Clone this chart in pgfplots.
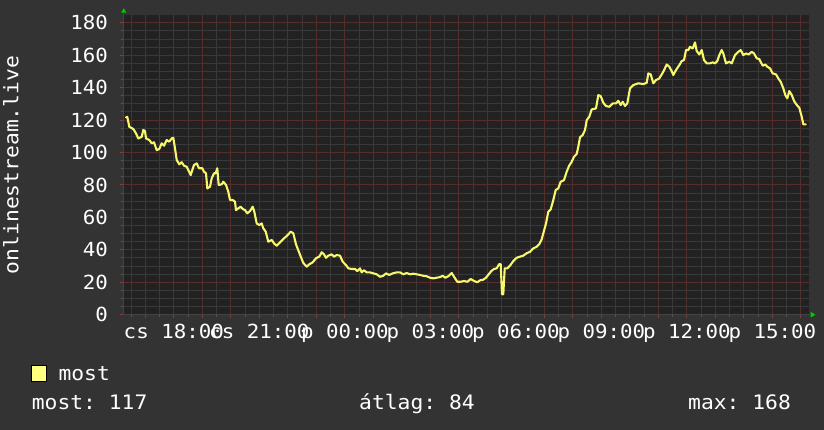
\documentclass[border=0pt]{standalone}
\usepackage{fontspec}
\setmainfont{DejaVu Sans Mono}[FakeStretch=1.07]
\usepackage{pgfplots}
\usepackage{pgfplotstable}
\pgfplotsset{compat=1.18}
\definecolor{outerbg}{HTML}{333333}
\definecolor{canvas}{HTML}{222222}
\definecolor{majgrid}{HTML}{552D2D}
\definecolor{mingrid}{HTML}{393939}
\definecolor{majtick}{HTML}{8A3A3A}
\definecolor{mintick}{HTML}{555555}
\definecolor{axiscol}{HTML}{444444}
\definecolor{lineyel}{HTML}{F7F76E}
\definecolor{legyel}{HTML}{FFFF80}
\definecolor{arrowgreen}{HTML}{00CC00}
\newcommand\msp{\hphantom{0}}

\pgfplotstableread{
h v
-7.677 121.7
-7.632 122.0
-7.561 115.9
-7.421 114.5
-7.326 111.8
-7.246 108.7
-7.126 109.7
-7.070 113.9
-7.011 113.3
-6.975 108.7
-6.860 107.7
-6.775 105.7
-6.695 106.3
-6.600 101.5
-6.509 102.2
-6.425 105.7
-6.344 104.2
-6.249 107.7
-6.158 106.7
-6.074 108.7
-6.018 109.1
-5.958 102.6
-5.898 95.4
-5.807 92.7
-5.723 94.0
-5.642 91.9
-5.547 91.2
-5.491 89.2
-5.407 86.1
-5.351 89.2
-5.291 92.3
-5.196 93.3
-5.116 90.3
-5.000 90.3
-4.940 88.2
-4.870 87.2
-4.825 77.9
-4.730 78.9
-4.670 84.1
-4.589 87.2
-4.530 87.2
-4.474 90.3
-4.425 80.0
-4.319 80.4
-4.263 82.0
-4.168 80.0
-4.088 75.8
-4.028 70.7
-3.933 70.7
-3.853 69.7
-3.818 64.5
-3.737 65.6
-3.653 66.6
-3.582 65.2
-3.502 64.5
-3.421 62.5
-3.326 63.9
-3.232 66.6
-3.175 63.5
-3.091 56.3
-3.000 55.3
-2.916 56.3
-2.860 53.3
-2.775 51.2
-2.684 45.0
-2.565 46.1
-2.484 44.0
-2.389 42.5
-2.274 44.6
-2.158 46.7
-2.039 48.5
-1.898 51.2
-1.807 50.2
-1.712 43.4
-1.572 37.0
-1.460 32.0
-1.337 29.6
-1.246 31.1
-1.126 32.3
-1.011 34.8
-0.895 35.8
-0.811 38.5
-0.730 37.2
-0.660 35.1
-0.579 36.4
-0.460 37.2
-0.379 35.8
-0.284 36.8
-0.168 36.4
-0.074 32.7
0.042 30.6
0.123 28.6
0.242 28.2
0.358 28.2
0.439 26.9
0.533 28.6
0.593 26.1
0.674 27.4
0.768 26.1
0.884 26.1
1.000 25.5
1.119 24.9
1.235 23.4
1.351 24.0
1.446 25.5
1.561 24.5
1.681 25.5
1.821 26.1
1.937 26.1
2.053 24.9
2.172 25.7
2.288 24.9
2.404 25.3
2.523 24.9
2.639 24.5
2.754 24.0
2.874 23.7
2.989 22.8
3.105 22.4
3.225 22.8
3.340 23.2
3.435 24.0
3.526 22.8
3.632 23.7
3.751 25.7
3.832 23.4
3.947 20.3
4.067 20.3
4.182 20.8
4.298 20.3
4.418 22.0
4.533 20.8
4.649 20.0
4.744 21.2
4.860 21.6
4.954 22.8
5.049 24.9
5.140 26.9
5.235 28.2
5.330 28.6
5.411 31.1
5.470 31.1
5.516 12.6
5.561 12.6
5.611 28.6
5.702 28.6
5.796 30.2
5.912 33.1
6.032 35.1
6.147 35.8
6.263 36.4
6.382 37.9
6.498 38.8
6.614 40.9
6.733 41.9
6.825 43.5
6.909 46.5
6.965 50.2
7.060 56.3
7.140 63.5
7.225 65.0
7.316 70.7
7.400 76.9
7.491 77.9
7.575 82.0
7.691 83.0
7.786 88.2
7.867 91.7
7.961 94.3
8.042 97.4
8.137 99.1
8.193 103.6
8.253 109.4
8.347 110.8
8.428 113.9
8.488 120.0
8.579 122.1
8.663 126.6
8.814 127.2
8.895 135.4
8.979 134.8
9.070 130.7
9.165 128.7
9.281 128.2
9.400 130.3
9.516 130.3
9.596 131.9
9.681 129.3
9.751 131.3
9.832 128.7
9.912 130.3
10.007 139.6
10.123 141.6
10.298 142.7
10.474 142.2
10.593 143.0
10.649 148.8
10.733 148.2
10.825 142.7
10.919 144.7
11.035 145.7
11.175 149.8
11.295 154.3
11.386 152.9
11.470 150.2
11.526 147.8
11.621 150.9
11.737 153.9
11.821 156.4
11.902 157.0
11.972 163.2
12.053 163.2
12.112 165.2
12.207 164.2
12.288 167.9
12.347 162.6
12.439 160.5
12.523 163.2
12.604 157.0
12.698 155.0
12.814 155.0
12.909 155.6
12.989 155.0
13.070 156.4
13.140 160.1
13.225 163.2
13.281 161.1
13.375 155.0
13.491 156.0
13.575 155.0
13.691 160.1
13.807 162.1
13.891 163.2
13.982 160.1
14.077 161.1
14.172 160.5
14.277 162.1
14.358 161.1
14.453 158.1
14.544 157.6
14.663 153.5
14.754 154.3
14.825 152.9
14.919 151.9
15.014 148.8
15.130 148.2
15.211 145.7
15.295 143.6
15.386 139.6
15.456 135.4
15.526 133.4
15.596 137.9
15.684 135.4
15.765 131.7
15.860 129.3
15.947 127.6
16.032 122.1
16.088 117.4
16.172 117.4
}\datatable

\begin{document}
\begin{tikzpicture}
\fill[outerbg] (0,0) rectangle (824bp,430bp);
\path[use as bounding box] (0,0) rectangle (824bp,430bp);
\begin{axis}[
  at={(123.3bp,115.3bp)}, anchor=south west,
  width=686bp, height=300bp, scale only axis,
  xmin=-7.772, xmax=16.298, ymin=0, ymax=185,
  axis background/.style={fill=canvas},
  axis line style={draw=none},
  tick pos=left, tick align=outside,
  major tick length=3bp, minor tick length=2bp,
  major tick style={draw=majtick, line width=1bp},
  minor tick style={draw=mintick, line width=1bp},
  grid=both,
  major grid style={draw=majgrid, line width=1bp},
  minor grid style={draw=mingrid, line width=1bp},
  xtick={-7,...,16},
  xticklabels={{},{cs\msp 18:00},{},{},{cs\msp 21:00},{},{},{p\msp 00:00},{},{},{p\msp 03:00},{},{},{p\msp 06:00},{},{},{p\msp 09:00},{},{},{p\msp 12:00},{},{},{p\msp 15:00},{}},
  minor xtick={-7.5,-6.5,...,15.5},
  ytick={0,20,...,180},
  minor ytick={5,10,15,25,30,35,45,50,55,65,70,75,85,90,95,105,110,115,125,130,135,145,150,155,165,170,175},
  /pgf/number format/assume math mode=true,
  tick label style={font=\fontsize{19.5}{20}\selectfont, text=white},
  xticklabel style={anchor=base, inner sep=0pt, yshift=-20.6bp},
  yticklabel style={anchor=east, inner sep=0pt, xshift=-12.1bp},
]
\addplot[color=lineyel, line width=2.1bp, line join=round, line cap=round] table[x=h, y=v] {\datatable};
\end{axis}
\draw[axiscol, line width=1bp] (123.3bp,115.3bp) -- (810bp,115.3bp);
\draw[axiscol, line width=1bp] (123.8bp,115.3bp) -- (123.8bp,418bp);
\fill[arrowgreen] (810.7bp,112.5bp) -- (815.5bp,115.3bp) -- (810.7bp,118.1bp) -- cycle;
\fill[arrowgreen] (121.2bp,417.3bp) -- (126.4bp,417.3bp) -- (123.8bp,421.8bp) -- cycle;
\node[rotate=90, anchor=base, inner sep=0pt, text=white, font=\fontsize{20}{24}\selectfont] at (18.3bp,265bp) {onlinestream.live};
\draw[black, line width=1bp, fill=legyel] (31.5bp,48.8bp) rectangle (46.8bp,64.5bp);
\node[anchor=base west, inner sep=0pt, text=white, font=\fontsize{20}{24}\selectfont] at (58.3bp,49bp) {most};
\node[anchor=base west, inner sep=0pt, text=white, font=\fontsize{20}{24}\selectfont] at (31.7bp,21bp) {most:\msp 117};
\node[anchor=base west, inner sep=0pt, text=white, font=\fontsize{20}{24}\selectfont] at (359bp,21bp) {átlag:\msp 84};
\node[anchor=base west, inner sep=0pt, text=white, font=\fontsize{20}{24}\selectfont] at (688bp,21bp) {max:\msp 168};
\end{tikzpicture}
\end{document}
